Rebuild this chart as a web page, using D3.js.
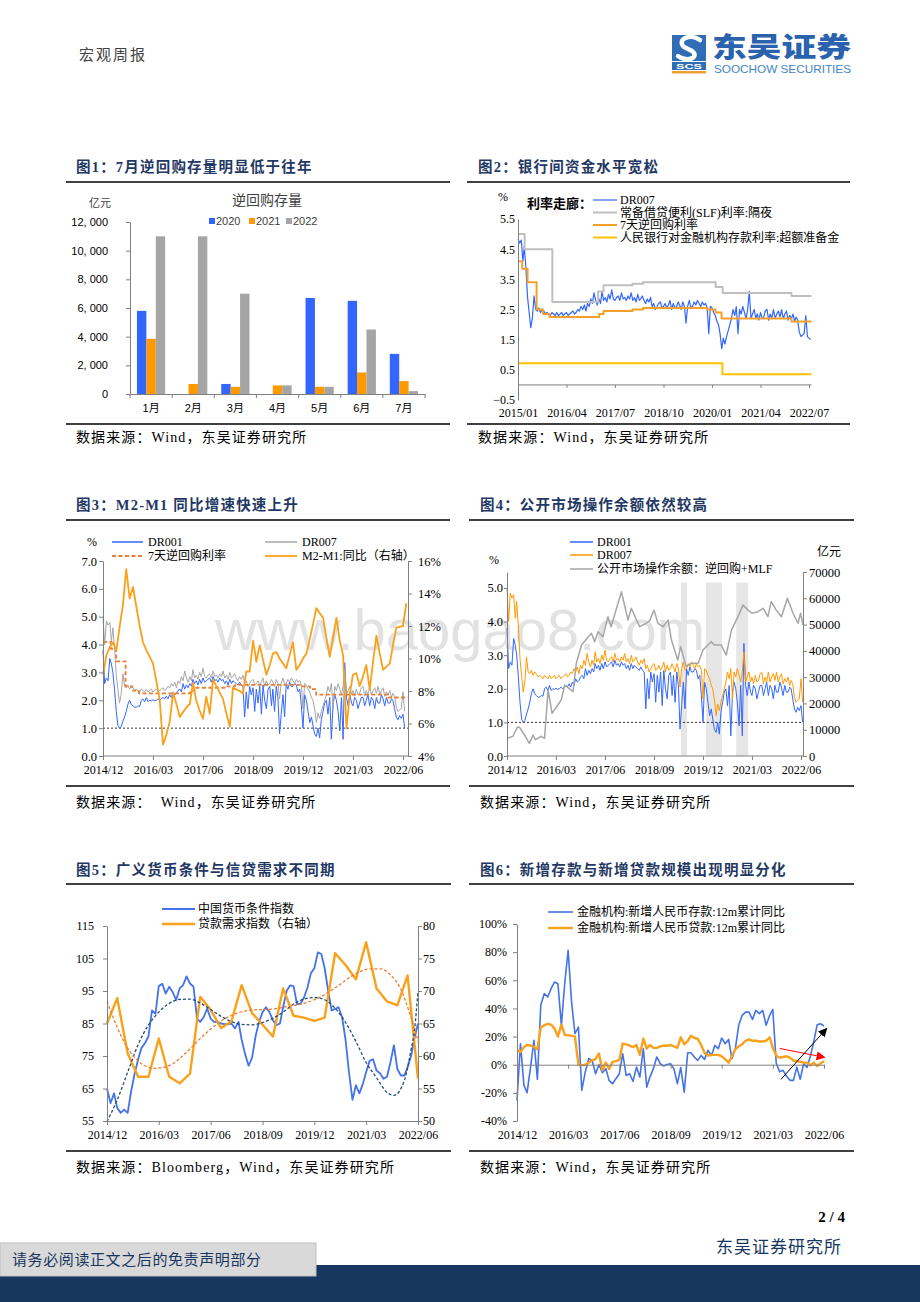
<!DOCTYPE html>
<html><head><meta charset="utf-8">
<script src="https://cdn.jsdelivr.net/npm/d3@7/dist/d3.min.js"></script>
<style>html,body{margin:0;padding:0;background:#fff;}svg{display:block;}</style>
</head><body>
<svg id="page" width="920" height="1302" xmlns="http://www.w3.org/2000/svg"></svg>
<script>
// ================= DATA =================
// Chart 1: reverse repo outstanding (亿元)
const c1Categories = ["1月","2月","3月","4月","5月","6月","7月"];
const c1Series = ["2020","2021","2022"];
const c1V2020 = [5800,0,700,0,6700,6500,2800];
const c1V2021 = [3850,700,500,600,500,1500,900];
const c1V2022 = [11000,11000,7000,600,500,4500,200];
const c1Ticks = [0,2000,4000,6000,8000,10000,12000];

// Semi-monthly samples starting 2014-12 (two per month): DR007 and DR001 (%)
const dr007 = [
5.0,4.0, 4.85,4.7, 4.8,4.1, 4.6,3.9,
2.9,2.4, 1.9,2.2, 2.95,2.5, 2.45,2.55,
2.4,2.5, 2.45,2.35, 2.4,2.35, 2.3,2.4,
2.35,2.3, 2.4,2.3, 2.35,2.4, 2.3,2.35,
2.4,2.3, 2.35,2.4, 2.45,2.35, 2.4,2.5,
2.45,2.6, 2.5,2.65, 2.45,2.7, 2.6,2.85,
2.7,3.05, 2.8,2.65, 2.85,2.7, 3.1,2.8,
2.9,2.75, 3.0,2.85, 3.15,2.85, 2.8,2.9,
2.95,2.8, 3.05,2.85, 2.9,2.8, 2.95,2.85,
3.05,2.8, 2.9,2.75, 3.0,2.8, 2.85,2.95,
2.8,2.7, 2.85,2.75, 2.9,2.6, 2.7,2.5,
2.6,2.7, 2.75,2.55, 2.6,2.7, 2.55,2.65,
2.8,2.5, 2.7,2.55, 2.6,2.75, 2.65,2.5,
2.75,2.6, 2.05,2.6, 2.8,2.55, 2.6,2.75,
2.65,2.8, 2.7,2.6, 2.75,2.65, 2.7,2.55,
1.7,2.6, 2.55,2.4, 2.3,2.1, 2.0,1.7,
1.2,1.55, 1.35,1.6, 1.8,2.0, 2.2,2.5,
2.3,2.6, 1.7,2.5, 2.35,2.6, 2.4,2.2,
2.5,3.1, 2.2,2.35, 2.5,2.2, 2.35,2.15,
2.4,2.2, 2.25,2.45, 2.5,2.15, 2.35,2.2,
2.5,2.2, 2.35,2.45, 2.25,2.5, 2.2,2.35,
2.45,2.15, 2.3,2.2, 2.35,2.1, 2.25,2.15,
1.75,1.6, 1.65,1.7, 2.3,1.6, 1.55,1.5];
const dr001 = [
3.8,2.6, 2.8,2.7, 3.5,3.3, 3.0,2.4,
1.6,1.1, 1.0,1.05, 1.25,1.4, 1.6,1.85,
2.0,1.85, 1.8,1.75, 1.75,1.8, 1.78,2.0,
2.05,1.95, 2.1,1.95, 2.0,1.98, 2.02,1.98,
2.0,2.05, 2.0,2.05, 2.1,2.05, 2.15,2.05,
2.2,2.1, 2.3,2.2, 2.25,2.35, 2.4,2.3,
2.6,2.4, 2.55,2.45, 2.6,2.5, 2.75,2.6,
2.7,2.55, 2.75,2.6, 2.8,2.65, 2.7,2.75,
2.8,2.65, 2.85,2.7, 2.75,2.65, 2.8,2.7,
2.75,2.6, 2.7,2.55, 2.75,2.6, 2.7,2.65,
2.6,2.55, 2.65,2.55, 2.5,1.4, 2.3,1.7,
2.5,2.2, 2.45,1.6, 2.4,1.9, 2.5,1.5,
2.55,2.0, 1.7,2.4, 2.5,1.8, 2.4,1.6,
2.5,2.1, 0.8,1.5, 2.2,1.4, 2.6,2.4,
2.65,2.5, 2.5,2.6, 2.55,2.3, 2.4,1.8,
1.0,2.2, 2.0,1.6, 1.2,1.4, 1.1,0.8,
0.7,1.0, 0.65,1.3, 1.6,1.9, 2.0,1.5,
2.1,0.6, 1.9,2.2, 2.0,1.6, 0.9,2.1,
0.6,3.35, 2.1,1.8, 2.2,1.9, 1.8,2.1,
2.0,1.7, 1.9,2.1, 2.1,1.8, 2.0,2.2,
1.8,2.1, 2.0,1.7, 2.1,1.9, 1.9,2.2,
2.05,1.8, 2.1,1.9, 1.9,2.05, 2.0,1.7,
1.4,1.3, 1.45,1.35, 1.5,1.0, 1.25,1.2];

// Policy rate steps (%)
const slfDates = ["2015-01-01","2015-03-04","2015-11-20","2017-01-24","2017-03-16","2017-12-14","2018-03-22","2020-02-03","2020-04-10","2022-01-17","2022-07-25"];
const slfRates = [5.0,4.5,2.75,3.1,3.3,3.35,3.4,3.25,3.05,2.95,2.95];
const repoDates = ["2014-12-01","2015-02-10","2015-04-01","2015-06-25","2015-08-25","2015-10-25","2017-02-03","2017-03-16","2017-12-14","2018-03-22","2019-11-18","2020-02-03","2020-03-30","2022-01-17","2022-07-25"];
const repoRates = [4.1,3.85,3.4,2.5,2.35,2.25,2.35,2.45,2.5,2.55,2.5,2.4,2.2,2.1,2.1];
const ioerDates = ["2015-01-01","2020-04-07","2022-07-25"];
const ioerRates = [0.72,0.35,0.35];
const c2Ticks = ["2015/01","2016/04","2017/07","2018/10","2020/01","2021/04","2022/07"];
const c2YTicks = [-0.5,0.5,1.5,2.5,3.5,4.5,5.5];

// Monthly M2-M1 yoy (%) from 2014-12
const m2m1 = [9.0,10.2,10.7,11.0,10.5,11.9,13.3,15.5,13.7,14.4,13.2,12.0,11.0,10.5,10.1,9.7,8.6,7.5,4.7,5.3,
6.1,7.9,7.2,6.4,6.7,7.0,7.2,8.5,7.4,6.8,6.3,7.65,6.6,8.7,8.3,7.9,7.5,6.6,5.8,8.2,
8.1,8.0,7.85,9.2,9.2,11.1,9.8,10.8,9.9,9.0,9.6,10.3,10.4,10.0,9.7,9.4,10.2,11.0,9.3,9.6,
10.0,10.3,11.2,12.1,13.1,12.8,12.5,11.3,10.1,11.3,12.5,11.1,10.2,5.7,7.85,9.0,9.1,8.3,8.9,9.6,
8.1,9.8,11.4,10.3,9.3,9.5,9.7,10.8,11.9,11.95,12.0,13.4];
const dateTicks = ["2014/12","2016/03","2017/06","2018/09","2019/12","2021/03","2022/06"];

// Chart 4: OMO balance (亿元), month offsets from 2014-12
const omoMonths = [0,1.8,3.2,3.9,5.4,6.9,8,8.7,10.5,11.5,12.6,13.8,16.6,17.7,20.2,21.2,22.8,25.8,26.8,27.9,
29.4,30.9,31.9,35,37,38,40.6,42.7,43.7,45,46.2,47.8,49.3,50.3,52.3,53.2,54.9,56.4,58.5,60,
62.5,63.5,65.6,67.1,68.7,70.7,72.2,73.8,75,76.8,78.4,79.9,80.9,82.4,84,85.8,87.6,89.1,89.9,90.6];
const omoValues = [6700,7500,10900,10900,8000,4800,8000,6200,7500,6700,25100,16200,21300,27000,24500,35300,42200,46700,43500,47300,
45400,53000,49200,62500,51700,56200,49200,50500,51500,55500,50500,49200,51700,44100,36500,41600,34000,35300,35300,40300,
43500,42200,42200,38400,47900,53000,57400,55500,54300,54900,56200,53000,58700,55500,53000,60000,54300,50500,54300,49900];
const shadeStarts = ["2019-05-10","2019-12-28","2020-10-05"];
const shadeEnds = ["2019-07-05","2020-05-25","2021-01-25"];

// Chart 5: monetary condition index (monthly) & loan demand index (quarterly)
const mci = [65.0,60.5,63.5,59.0,57.5,58.5,57.5,64.0,69.5,74.0,77.5,79.0,81.0,89.0,88.0,96.5,97.2,94.2,96.3,94.7,
92.2,95.8,96.8,99.5,97.3,96.3,86.5,85.5,87.0,89.6,86.5,85.5,85.5,85.0,84.8,84.8,85.0,83.5,85.5,80.0,
75.5,72.0,74.5,81.0,85.5,88.5,90.0,88.5,86.0,84.5,85.0,90.0,95.0,96.7,96.5,91.0,91.0,93.0,96.0,100.5,
102.0,106.9,106.4,102.0,95.0,89.0,89.5,90.0,87.0,80.0,70.0,61.5,66.0,63.5,66.5,70.0,73.5,74.0,70.5,69.7,
68.0,68.6,73.0,78.3,71.0,69.0,69.0,71.5,75.0,80.5,85.0];
const loanDemand = [65.0,68.9,60.4,56.8,56.8,62.7,56.8,55.8,57.3,69.1,67.1,64.3,65.3,70.9,66.6,64.8,63.0,70.4,66.2,65.9,
65.4,65.9,75.8,74.0,71.8,77.5,70.4,68.4,67.8,72.4,56.5];
const mciTrendMonths = [0,3,6,9,12,15,18,21,24,27,30,33,36,39,42,45,48,51,54,57,60,63,66,69,72,75,78,81,83,86,88,89,90];
const mciTrend = [54.8,61.5,70.0,78.5,84.5,88.5,91.2,92.4,92.5,91.3,89.3,87.2,85.6,84.7,84.6,85.3,86.6,88.5,91.0,92.5,93.0,92.3,89.7,85.3,79.5,73.0,68.3,63.8,62.9,67.5,77.0,83.0,95.0];
const loanTrendMonths = [0,5.8,10.6,13.5,18.3,23.2,28,32.8,37.6,42.5,47.3,52.1,57,61.8,66.6,71.4,76.3,79.2,82,84.9,87.8,90.3];
const loanTrend = [68.4,61.4,58.6,58.1,58.6,60.7,63.2,65.3,66.6,67.1,67.2,67.6,68.1,69.1,70.7,72.5,73.4,73.4,72.5,70.4,66.3,61.8];

// Chart 6: 12m cumulative yoy of new deposits / new loans (%), monthly from 2014-12
const newDeposits = [-25.4,14.9,-14.7,-19.9,-1.7,17.3,-10.4,42.2,50.5,48.1,54.0,58.8,57.6,28.0,58.8,81.3,44.5,22.0,26.8,-18.2,
-5.2,4.3,3.1,-6.4,0,-5.7,-2.8,-11.1,-13.5,-10.0,-6.4,7.8,-7.6,-6.4,-11.8,-1.7,-8.8,11.4,-15.9,-8.8,
-2.8,5.5,0.7,-0.9,0.2,0.7,-2.8,-13.5,-2.0,-19.5,8.5,8.5,5.5,3.1,6.6,3.8,10.2,6.6,13.7,11.4,
19.0,14.9,18.0,4.3,11.4,28.0,35.1,37.4,37.4,32.2,38.6,36.3,38.6,28.0,35.1,39.3,1.0,-5.0,-4.0,-8.1,
-11.1,-11.1,-1.7,-10.4,0.7,-1.9,6.6,16.1,28.4,29.1,27.5];
const newLoans = [10.2,9.0,12.6,14.0,13.7,12.6,11.0,26.5,28.0,29.0,28.5,25.5,20.0,28.5,21.0,21.0,20.5,20.0,0,-0.5,
0,1.4,3.1,4.0,8.0,-4.0,1.5,-3.0,2.0,2.5,3.5,15.0,14.5,13.5,12.5,14.0,7.0,18.5,11.5,14.0,
12.0,12.0,13.0,13.5,13.5,14.0,13.0,12.0,19.5,14.5,17.0,20.5,19.0,18.5,14.0,8.5,6.5,7.0,7.0,7.0,
6.0,4.0,1.5,6.0,11.0,13.0,14.5,17.0,18.0,17.0,17.0,16.5,16.5,17.0,19.5,12.0,6.5,5.0,5.5,6.0,
5.0,3.0,2.5,2.0,1.5,1.5,-0.5,1.5,-1.0,1.0,2.5];
const redArrow = [[77,11.6],[90.2,5.2]];
const blackArrow = [[77.4,-10.4],[90.8,25.8]];

// ================= HELPERS =================
const SERIF = "'Liberation Serif','Times New Roman','Noto Sans CJK SC',serif";
const SANS = "'Liberation Sans',Arial,'Noto Sans CJK SC',sans-serif";
const CJK = "'Noto Sans CJK SC',sans-serif";
const AX = "#808080";
const BLUE = "#3366FF", ORANGE = "#FF9900", GRAY = "#A6A6A6", DORANGE = "#ED7D31", NAVY = "#1F3864";
const svg = d3.select("#page");
const defs = svg.append("defs");

const monthDate = m => { const f = Math.floor(m); return new Date(2014, 11 + f, 1 + Math.round((m - f) * 30)); };
const halfDate = i => new Date(2014, 11 + Math.floor(i / 2), i % 2 ? 16 : 1);
const pDay = d3.timeParse("%Y-%m-%d");
const pYM = d3.timeParse("%Y/%m");

function T(x, y, s, o = {}) {
  const t = svg.append("text").attr("x", x).attr("y", y).attr("dy", o.dy ?? "0.35em")
    .attr("font-family", o.ff || SERIF).attr("font-size", o.fs || 12)
    .attr("fill", o.fill || "#000").attr("text-anchor", o.anchor || "start").text(s);
  if (o.fw) t.attr("font-weight", o.fw);
  if (o.ls) t.attr("letter-spacing", o.ls);
  if (o.len) t.attr("textLength", o.len).attr("lengthAdjust", "spacingAndGlyphs");
  if (o.pre) t.attr("xml:space", "preserve").style("white-space", "pre");
  return t;
}
function L(x1, y1, x2, y2, o = {}) {
  return svg.append("line").attr("x1", x1).attr("y1", y1).attr("x2", x2).attr("y2", y2)
    .attr("stroke", o.c || "#000").attr("stroke-width", o.w || 1).attr("stroke-dasharray", o.dash || null);
}
function axis(gen, tx, ty, o = {}) {
  const g = svg.append("g").attr("transform", `translate(${tx},${ty})`).call(gen);
  g.attr("font-family", null).attr("font-size", null);
  g.select(".domain").attr("stroke", AX);
  g.selectAll(".tick line").attr("stroke", AX);
  const t = g.selectAll(".tick text").attr("font-family", o.ff || SERIF).attr("font-size", o.fs || 12).attr("fill", "#000");
  if (o.labelY != null) t.attr("y", o.labelY).attr("dy", "0.35em");
  if (o.noDomain) g.select(".domain").remove();
  return g;
}
function P(data, x, y, o) {
  return svg.append("path").datum(data).attr("fill", "none").attr("stroke", o.c).attr("stroke-width", o.w || 1)
    .attr("stroke-dasharray", o.dash || null).attr("stroke-linejoin", "round")
    .attr("d", d3.line().x(d => x(d[0])).y(d => y(d[1])).curve(o.curve || d3.curveLinear));
}
function legLine(x1, x2, y, c, w, dash) { L(x1, y, x2, y, {c, w, dash}); }

const drSeries = arr => arr.map((v, i) => [halfDate(i), v]);
const steps = (ds, vs) => ds.map((d, i) => [pDay(d), vs[i]]);

// ================= WATERMARK =================
T(215, 650, "www.baogao8.com", {ff: SANS, fs: 58, fill: "#e2e2e2", dy: "0"});

// ================= PAGE FRAME =================
T(79, 55, "宏观周报", {ff: CJK, fs: 15, fill: "#404040", ls: 2});
// logo
svg.append("rect").attr("x", 672).attr("y", 35).attr("width", 34).attr("height", 26).attr("fill", "#2F6DB5");
svg.append("path").attr("d", "M700,40 C691,33 676,39 684,47 L692,51 C700,57 688,63 678,56")
  .attr("fill", "none").attr("stroke", "#fff").attr("stroke-width", 4.5).attr("stroke-linecap", "round");
svg.append("rect").attr("x", 672).attr("y", 62).attr("width", 34).attr("height", 8).attr("fill", "#2F6DB5");
T(689, 66.2, "SCS", {ff: SANS, fs: 8, fw: "bold", fill: "#fff", anchor: "middle", len: 26});
svg.append("rect").attr("x", 672).attr("y", 71).attr("width", 34).attr("height", 2.5).attr("fill", "#F0A030");
T(712, 48, "东吴证券", {ff: CJK, fs: 27, fw: "900", fill: "#2A62AE", len: 139});
T(714, 69, "SOOCHOW SECURITIES", {ff: SANS, fs: 10.5, fill: "#3F86C8", len: 137});

// footer
T(845, 1217, "2 / 4", {ff: SERIF, fs: 15, fw: "bold", anchor: "end"});
T(842, 1247, "东吴证券研究所", {ff: CJK, fs: 17, fill: "#17375E", anchor: "end", ls: 1});
svg.append("rect").attr("x", 0).attr("y", 1265).attr("width", 920).attr("height", 37).attr("fill", "#17375E");
svg.append("rect").attr("x", 0).attr("y", 1243).attr("width", 316).attr("height", 33).attr("fill", "#D9D9D9").attr("stroke", "#BFBFBF");
T(12, 1259.5, "请务必阅读正文之后的免责声明部分", {ff: CJK, fs: 15, fill: "#17375E", ls: 0.6});

// chart frames
const frames = [
  {t: "图1：7月逆回购存量明显低于往年", s: "数据来源：Wind，东吴证券研究所", x1: 66, x2: 450, tx: 76, ty: 167, r1: 182, r2: 424, sy: 437},
  {t: "图2：银行间资金水平宽松", s: "数据来源：Wind，东吴证券研究所", x1: 467, x2: 850, tx: 478, ty: 167, r1: 182, r2: 424, sy: 437},
  {t: "图3：M2-M1 同比增速快速上升", s: "数据来源：  Wind，东吴证券研究所", x1: 66, x2: 450, tx: 76, ty: 505, r1: 520, r2: 786, sy: 802},
  {t: "图4：公开市场操作余额依然较高", s: "数据来源：Wind，东吴证券研究所", x1: 469, x2: 854, tx: 480, ty: 505, r1: 520, r2: 786, sy: 802},
  {t: "图5：广义货币条件与信贷需求不同期", s: "数据来源：Bloomberg，Wind，东吴证券研究所", x1: 66, x2: 451, tx: 76, ty: 870, r1: 884, r2: 1151, sy: 1167},
  {t: "图6：新增存款与新增贷款规模出现明显分化", s: "数据来源：Wind，东吴证券研究所", x1: 469, x2: 854, tx: 480, ty: 870, r1: 884, r2: 1151, sy: 1167}
];
frames.forEach(f => {
  T(f.tx, f.ty, f.t, {ff: SERIF, fs: 14.5, fw: "bold", fill: NAVY, ls: 1.2});
  L(f.x1, f.r1, f.x2, f.r1, {w: 1.6});
  L(f.x1, f.r2, f.x2, f.r2, {w: 1.6});
  T(f.tx, f.sy, f.s, {ff: SERIF, fs: 14, ls: 1.1, pre: true});
});

// ================= CHART 1 =================
{
  const x = d3.scaleBand().domain(c1Categories).range([130, 425]).paddingInner(0.33).paddingOuter(0.165);
  const xs = d3.scaleBand().domain(c1Series).range([0, x.bandwidth()]);
  const y = d3.scaleLinear().domain([0, 12000]).range([394, 222]);
  const vals = {"2020": c1V2020, "2021": c1V2021, "2022": c1V2022};
  const col = {"2020": "#3366FF", "2021": "#FF9900", "2022": "#A5A5A5"};
  c1Series.forEach(s => {
    svg.append("g").selectAll("rect").data(c1Categories).join("rect")
      .attr("x", c => x(c) + xs(s)).attr("width", xs.bandwidth())
      .attr("y", (c, i) => y(vals[s][i])).attr("height", (c, i) => y(0) - y(vals[s][i]))
      .attr("fill", col[s]);
  });
  axis(d3.axisLeft(y).tickValues(c1Ticks).tickFormat(d => d3.format(",")(d).replace(",", ", ")).tickSize(4).tickSizeOuter(0).tickPadding(18), 130, 0, {ff: SANS, fs: 11});
  axis(d3.axisBottom(x).tickSize(0).tickSizeOuter(0), 0, 394, {ff: SANS, fs: 11, labelY: 14});
  const xb = d3.scaleLinear().domain([0, c1Categories.length]).range([130, 425]);
  svg.append("g").selectAll("line").data(d3.range(c1Categories.length + 1)).join("line")
    .attr("x1", xb).attr("x2", xb).attr("y1", 394).attr("y2", 398).attr("stroke", AX);
  T(267, 200, "逆回购存量", {ff: CJK, fs: 14, anchor: "middle", fill: "#404040"});
  T(89, 203, "亿元", {ff: CJK, fs: 11, fill: "#404040"});
  const lx = [209, 249, 286];
  c1Series.forEach((s, i) => {
    svg.append("rect").attr("x", lx[i]).attr("y", 218).attr("width", 6).attr("height", 6).attr("fill", col[s]);
    T(lx[i] + 7, 221, s, {ff: SANS, fs: 11, fill: "#404040"});
  });
}

// ================= CHART 2 =================
{
  const x = d3.scaleTime().domain([pYM("2015/01"), pYM("2022/07")]).range([518, 809]);
  const y = d3.scaleLinear().domain([-0.5, 5.5]).range([400, 219]);
  const start = pYM("2015/01");
  P(drSeries(dr007).filter(d => d[0] >= start), x, y, {c: BLUE, w: 1.2});
  P(steps(slfDates, slfRates), x, y, {c: "#BFBFBF", w: 2, curve: d3.curveStepAfter});
  P(steps(repoDates, repoRates).filter(d => d[0] >= pDay("2014-12-01")).map(d => [d[0] < start ? start : d[0], d[1]]), x, y, {c: "#F5A02A", w: 2, curve: d3.curveStepAfter});
  P(steps(ioerDates, ioerRates), x, y, {c: "#FFC000", w: 2, curve: d3.curveStepAfter});
  axis(d3.axisLeft(y).tickValues(c2YTicks).tickFormat(d3.format(".1f")).tickSize(0).tickSizeOuter(0).tickPadding(3), 518, 0, {fs: 12});
  L(518, y(0), x(pDay("2022-07-25")), y(0), {c: AX});
  axis(d3.axisBottom(x).tickValues(c2Ticks.map(pYM)).tickFormat((d, i) => c2Ticks[i]).tickSize(3).tickSizeOuter(0), 0, y(0), {fs: 12, labelY: 413 - y(0), noDomain: true});
  T(503, 197, "%", {fs: 12, anchor: "middle"});
  T(527, 203, "利率走廊：", {ff: CJK, fs: 13, fw: "bold"});
  const items = [["DR007", BLUE, 200, 1.2], ["常备借贷便利(SLF)利率:隔夜", "#BFBFBF", 212.5, 2], ["7天逆回购利率", "#F5A02A", 225, 2], ["人民银行对金融机构存款利率:超额准备金", "#FFC000", 237.5, 2]];
  items.forEach(it => { legLine(593, 617, it[2], it[1], it[3]); T(620, it[2], it[0], {fs: 12}); });
}

// ================= CHART 3 =================
{
  const x = d3.scaleTime().domain([pYM("2014/12"), pYM("2022/06")]).range([103, 403]);
  const yl = d3.scaleLinear().domain([0, 7]).range([756, 561]);
  const yr = d3.scaleLinear().domain([4, 16]).range([756, 561]);
  const end = pDay("2022-06-30");
  const xEnd = 408;
  L(103, yl(1), xEnd, yl(1), {c: "#000", w: 0.8, dash: "2,2"});
  P(drSeries(dr001).filter(d => d[0] <= end), x, yl, {c: BLUE, w: 1});
  P(drSeries(dr007).filter(d => d[0] <= end), x, yl, {c: GRAY, w: 1});
  P(steps(repoDates, repoRates).map(d => [d[0] > pDay("2022-07-15") ? pDay("2022-07-15") : d[0], d[1]]), x, yl, {c: DORANGE, w: 1.8, dash: "4,2.5", curve: d3.curveStepAfter});
  P(m2m1.map((v, i) => [monthDate(i), v]), x, yr, {c: "#F9A11B", w: 1.8});
  axis(d3.axisLeft(yl).tickValues(d3.range(0, 8)).tickFormat(d3.format(".1f")).tickSize(4).tickSizeOuter(0).tickPadding(2), 103, 0, {fs: 12.5});
  axis(d3.axisRight(yr).tickValues(d3.range(4, 17, 2)).tickFormat(d => d + "%").tickSize(4).tickSizeOuter(0).tickPadding(6), xEnd, 0, {fs: 12.5});
  L(103, 756, xEnd, 756, {c: AX});
  axis(d3.axisBottom(x).tickValues(dateTicks.map(pYM)).tickFormat((d, i) => dateTicks[i]).tickSize(4).tickSizeOuter(0), 0, 756, {fs: 12, labelY: 14, noDomain: true});
  T(92, 542, "%", {fs: 12, anchor: "middle"});
  legLine(112, 143, 542, BLUE, 1.5); T(148, 542, "DR001", {fs: 12});
  legLine(265, 297, 542, GRAY, 1.5); T(302, 542, "DR007", {fs: 12});
  legLine(112, 143, 556, DORANGE, 1.8, "4,2.5"); T(148, 556, "7天逆回购利率", {fs: 12});
  legLine(265, 297, 556, "#F9A11B", 1.8); T(302, 556, "M2-M1:同比（右轴）", {fs: 12});
}

// ================= CHART 4 =================
{
  const x = d3.scaleTime().domain([pYM("2014/12"), pYM("2022/06")]).range([507, 801]);
  const yl = d3.scaleLinear().domain([0, 5.476]).range([756, 572]);
  const yr = d3.scaleLinear().domain([0, 70000]).range([756, 572]);
  const end = pDay("2022-06-30");
  const xEnd = 803;
  svg.append("g").selectAll("rect").data(shadeStarts).join("rect")
    .attr("x", d => x(pDay(d))).attr("width", (d, i) => x(pDay(shadeEnds[i])) - x(pDay(d)))
    .attr("y", yr(66000)).attr("height", yr(0) - yr(66000)).attr("fill", "#E7E6E6");
  L(507, yl(1), xEnd, yl(1), {c: "#000", w: 0.8, dash: "2,2"});
  P(drSeries(dr001).filter(d => d[0] <= end), x, yl, {c: BLUE, w: 1});
  P(drSeries(dr007).filter(d => d[0] <= end), x, yl, {c: ORANGE, w: 1});
  P(omoMonths.map((m, i) => [monthDate(m), omoValues[i]]), x, yr, {c: GRAY, w: 1.5});
  axis(d3.axisLeft(yl).tickValues(d3.range(0, 6)).tickFormat(d3.format(".1f")).tickSize(3).tickSizeOuter(0).tickPadding(1), 507, 0, {fs: 12.5});
  axis(d3.axisRight(yr).tickValues(d3.range(0, 70001, 10000)).tickFormat(d3.format("d")).tickSize(4).tickSizeOuter(0).tickPadding(2), xEnd, 0, {fs: 12.5});
  L(507, 756, xEnd, 756, {c: AX});
  axis(d3.axisBottom(x).tickValues(dateTicks.map(pYM)).tickFormat((d, i) => dateTicks[i]).tickSize(4).tickSizeOuter(0), 0, 756, {fs: 12, labelY: 14, noDomain: true});
  T(494, 560, "%", {fs: 12, anchor: "middle"});
  T(829, 552, "亿元", {ff: CJK, fs: 12, anchor: "middle"});
  legLine(570, 593, 542, BLUE, 1.5); T(597, 542, "DR001", {fs: 12});
  legLine(570, 593, 555, ORANGE, 1.5); T(597, 555, "DR007", {fs: 12});
  legLine(570, 593, 569, GRAY, 1.5); T(597, 569, "公开市场操作余额：逆回购+MLF", {fs: 12});
}

// ================= CHART 5 =================
{
  const x = d3.scaleTime().domain([pYM("2014/12"), pYM("2022/06")]).range([107, 418]);
  const yl = d3.scaleLinear().domain([55, 115]).range([1121, 926]);
  const yr = d3.scaleLinear().domain([50, 80]).range([1121, 926]);
  P(mci.map((v, i) => [monthDate(i), v]), x, yl, {c: "#4472E8", w: 1.8});
  P(loanDemand.map((v, i) => [monthDate(i * 3), v]), x, yr, {c: "#F9A11B", w: 2.4});
  P(mciTrendMonths.map((m, i) => [monthDate(m), mciTrend[i]]), x, yl, {c: "#1F4E79", w: 1.3, dash: "3,2", curve: d3.curveMonotoneX});
  P(loanTrendMonths.map((m, i) => [monthDate(m), loanTrend[i]]), x, yr, {c: DORANGE, w: 1.3, dash: "3,2", curve: d3.curveMonotoneX});
  axis(d3.axisLeft(yl).tickValues(d3.range(55, 116, 10)).tickSize(4).tickSizeOuter(0).tickPadding(9), 107, 0, {fs: 12});
  axis(d3.axisRight(yr).tickValues(d3.range(50, 81, 5)).tickSize(4).tickSizeOuter(0).tickPadding(1), 418, 0, {fs: 12});
  axis(d3.axisBottom(x).tickValues(dateTicks.map(pYM)).tickFormat((d, i) => dateTicks[i]).tickSize(4).tickSizeOuter(0), 0, 1121, {fs: 12, labelY: 14});
  legLine(162, 195, 909, "#4472E8", 1.8); T(198, 909, "中国货币条件指数", {fs: 12});
  legLine(162, 195, 924, "#F9A11B", 2.4); T(198, 924, "贷款需求指数（右轴）", {fs: 12});
}

// ================= CHART 6 =================
{
  const x = d3.scaleTime().domain([pYM("2014/12"), pYM("2022/06")]).range([517, 824]);
  const y = d3.scaleLinear().domain([-40, 100]).range([1121, 924]);
  P(newDeposits.map((v, i) => [monthDate(i), v]), x, y, {c: "#4472E8", w: 1.6});
  P(newLoans.map((v, i) => [monthDate(i), v]), x, y, {c: "#F9A11B", w: 2.4});
  axis(d3.axisLeft(y).tickValues(d3.range(-40, 101, 20)).tickFormat(d => d + "%").tickSize(4).tickSizeOuter(0).tickPadding(6), 517, 0, {fs: 12});
  axis(d3.axisBottom(x).tickValues(dateTicks.map(pYM)).tickFormat((d, i) => dateTicks[i]).tickSize(4).tickSizeOuter(0), 0, y(0), {fs: 12, labelY: 1135 - y(0)});
  const mk = (id, c) => defs.append("marker").attr("id", id).attr("viewBox", "0 0 10 10").attr("refX", 9).attr("refY", 5)
    .attr("markerWidth", 9).attr("markerHeight", 9).attr("markerUnits", "userSpaceOnUse").attr("orient", "auto")
    .append("path").attr("d", "M0,0 L10,5 L0,10 z").attr("fill", c);
  mk("arrR", "#FF0000"); mk("arrK", "#000");
  P(redArrow.map(d => [monthDate(d[0]), d[1]]), x, y, {c: "#FF0000", w: 1}).attr("marker-end", "url(#arrR)");
  P(blackArrow.map(d => [monthDate(d[0]), d[1]]), x, y, {c: "#000", w: 1}).attr("marker-end", "url(#arrK)");
  legLine(548, 573, 912, "#4472E8", 1.6); T(577, 912, "金融机构:新增人民币存款:12m累计同比", {fs: 12});
  legLine(548, 573, 928, "#F9A11B", 2.4); T(577, 928, "金融机构:新增人民币贷款:12m累计同比", {fs: 12});
}
</script></body></html>
